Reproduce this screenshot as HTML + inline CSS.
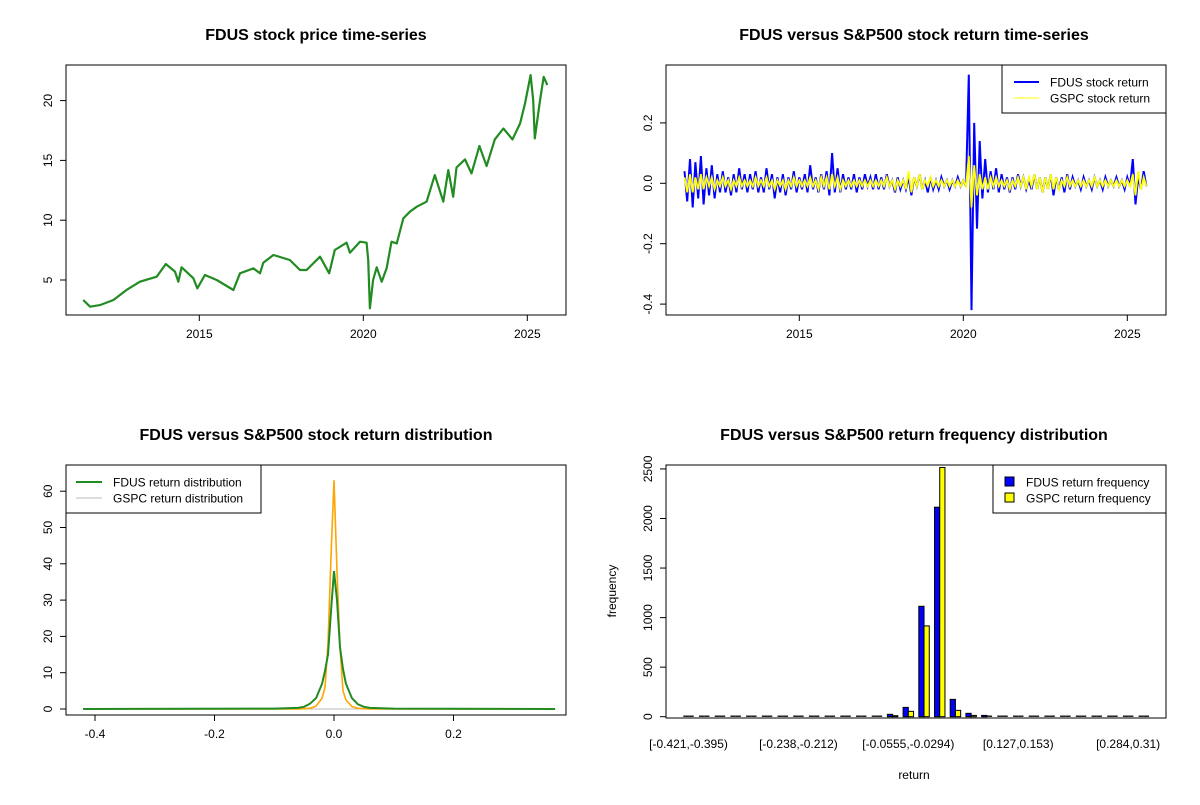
<!DOCTYPE html>
<html><head><meta charset="utf-8"><style>
body{margin:0;background:#fff}
svg{font-family:"Liberation Sans",Arial,sans-serif}
</style></head><body>
<svg id="s" width="1200" height="800" viewBox="0 0 1200 800"></svg>
<script>
// ---- Panel 1: price
const priceYears=[2011.46,2011.67,2011.97,2012.38,2012.78,2013.19,2013.70,2013.98,2014.26,2014.36,2014.46,2014.82,2014.94,2015.17,2015.53,2016.04,2016.24,2016.65,2016.85,2016.95,2017.26,2017.76,2018.07,2018.27,2018.68,2018.96,2019.13,2019.49,2019.59,2019.90,2020.10,2020.15,2020.20,2020.30,2020.41,2020.56,2020.71,2020.86,2021.02,2021.22,2021.42,2021.63,2021.93,2022.18,2022.44,2022.59,2022.74,2022.84,2023.10,2023.30,2023.54,2023.76,2024.01,2024.27,2024.55,2024.78,2024.93,2025.10,2025.18,2025.23,2025.38,2025.50,2025.61];
const priceValues=[3.33,2.77,2.9,3.33,4.16,4.86,5.28,6.34,5.7,4.86,6.06,5.14,4.3,5.42,5.0,4.16,5.56,5.97,5.56,6.45,7.09,6.67,5.84,5.84,6.95,5.56,7.51,8.12,7.28,8.2,8.12,6.67,2.63,5.0,6.06,4.86,5.97,8.2,8.06,10.15,10.71,11.13,11.55,13.77,11.55,14.19,11.96,14.41,15.08,13.91,16.2,14.53,16.76,17.67,16.76,18.09,19.76,22.13,20.04,16.84,19.9,21.99,21.3];
const yearTicks=[2015,2020,2025];
const priceTicks=[5,10,15,20];
// ---- Panel 2: returns (monthly samples from 2011.5)
const fdusReturn=[0.04,-0.06,0.08,-0.08,0.07,-0.05,0.09,-0.07,0.05,-0.04,0.06,-0.05,
0.03,-0.03,0.04,-0.03,0.02,-0.04,0.03,-0.03,0.05,-0.02,0.03,-0.03,
0.03,-0.02,0.04,-0.03,0.02,-0.03,0.05,-0.02,0.03,-0.05,0.02,-0.03,
0.03,-0.04,0.02,-0.02,0.04,-0.03,0.02,-0.02,0.03,-0.03,0.06,-0.02,
0.02,-0.03,0.03,-0.02,0.04,-0.04,0.1,-0.03,0.05,-0.03,0.03,-0.02,
0.02,-0.02,0.03,-0.03,0.02,-0.02,0.03,-0.01,0.02,-0.02,0.03,-0.02,
0.02,-0.02,0.03,-0.01,0.01,-0.03,0.02,-0.02,0.01,-0.02,0.02,-0.04,
0.02,-0.01,0.03,-0.02,0.01,-0.03,0.02,-0.02,0.01,-0.02,0.02,-0.01,
0.01,-0.02,0.01,-0.01,0.02,-0.01,0.01,-0.01,0.36,-0.42,0.2,-0.15,
0.14,-0.05,0.08,-0.03,0.04,-0.02,0.05,-0.03,0.03,-0.02,0.02,-0.03,
0.02,-0.02,0.03,-0.01,0.02,-0.02,0.01,-0.02,0.03,-0.02,0.02,-0.03,
0.02,-0.02,0.03,-0.04,0.02,-0.02,0.02,-0.03,0.03,-0.02,0.02,-0.01,
0.01,-0.02,0.02,-0.01,0.01,-0.02,0.02,-0.01,0.01,-0.02,0.02,-0.01,
0.01,-0.01,0.02,-0.01,0.01,-0.02,0.02,-0.01,0.08,-0.07,0.02,-0.02,0.04,-0.01];
const gspcReturn=[0.02,-0.03,0.03,-0.03,0.02,-0.02,0.03,-0.02,0.02,-0.01,0.02,-0.02,
0.01,-0.01,0.02,-0.01,0.01,-0.02,0.01,-0.01,0.02,-0.01,0.01,-0.01,
0.01,-0.01,0.02,-0.01,0.01,-0.01,0.02,-0.01,0.01,-0.02,0.01,-0.01,
0.01,-0.02,0.01,-0.01,0.02,-0.01,0.01,-0.01,0.01,-0.01,0.02,-0.01,
0.01,-0.02,0.02,-0.01,0.02,-0.02,0.03,-0.01,0.02,-0.02,0.01,-0.01,
0.01,-0.01,0.01,-0.01,0.01,-0.01,0.01,-0.01,0.01,-0.01,0.01,-0.01,
0.01,-0.01,0.02,-0.01,0.01,-0.02,0.01,-0.01,0.01,-0.02,0.04,-0.03,
0.02,-0.01,0.03,-0.02,0.01,-0.01,0.02,-0.01,0.01,-0.01,0.01,-0.01,
0.01,-0.01,0.01,-0.01,0.01,-0.01,0.01,-0.01,0.09,-0.08,0.06,-0.04,
0.03,-0.02,0.02,-0.02,0.02,-0.01,0.02,-0.01,0.01,-0.01,0.01,-0.02,
0.01,-0.01,0.02,-0.01,0.02,-0.02,0.02,-0.01,0.03,-0.02,0.02,-0.03,
0.02,-0.02,0.03,-0.02,0.02,-0.02,0.01,-0.01,0.02,-0.01,0.01,-0.01,
0.01,-0.01,0.01,-0.01,0.01,-0.01,0.02,-0.01,0.01,-0.01,0.01,-0.01,
0.01,-0.01,0.01,-0.01,0.01,-0.01,0.01,-0.01,0.03,-0.04,0.04,-0.02,0.02,-0.01];
const returnTicks=[-0.4,-0.2,0.0,0.2];
// ---- Panel 3: density
const fdusDensX=[-0.42,-0.1,-0.06,-0.05,-0.04,-0.03,-0.02,-0.015,-0.01,-0.005,0,0.005,0.01,0.015,0.02,0.03,0.04,0.05,0.06,0.1,0.37];
const fdusDensY=[0,0.1,0.3,0.6,1.5,3,7,10.5,15,27,38,30,17,11,7,3,1.3,0.6,0.3,0.1,0];
const gspcDensX=[-0.42,-0.06,-0.04,-0.03,-0.02,-0.015,-0.01,-0.005,0,0.005,0.01,0.015,0.02,0.03,0.04,0.06,0.37];
const gspcDensY=[0,0,0.2,0.8,3,6,18,42,63,38,17,5,2.5,0.7,0.2,0,0];
const densXTicks=[-0.4,-0.2,0.0,0.2];
const densYTicks=[0,10,20,30,40,50,60];
// ---- Panel 4: frequency
const binLabels=["[-0.421,-0.395)","","","","","","","[-0.238,-0.212)","","","","","","","[-0.0555,-0.0294)","","","","","","","[0.127,0.153)","","","","","","","[0.284,0.31)",""];
const fdusFreq=[1,0,0,0,0,0,0,0,0,0,2,6,8,24,94,1114,2114,175,34,13,3,1,0,0,0,0,0,0,0,1];
const gspcFreq=[0,0,0,0,0,0,0,0,0,0,0,2,3,10,54,916,2900,64,13,5,1,0,0,0,0,0,0,0,0,0];
const freqTicks=[0,500,1000,1500,2000,2500];

const S=document.getElementById('s');const NS="http://www.w3.org/2000/svg";
function mk(tag,at,txt,parent){const e=document.createElementNS(NS,tag);for(const k in at)e.setAttribute(k,at[k]);if(txt!==undefined)e.textContent=txt;(parent||S).appendChild(e);return e;}
function fmt1(v){return v.toFixed(1);}
function frame(x0,y0,x1,y1,name){let e=mk('rect',{x:x0,y:y0,width:x1-x0,height:y1-y0,fill:'none',stroke:'#000','stroke-width':1});

}
function title(x,y,t,name){let e=mk('text',{x:x,y:y,'text-anchor':'middle','font-size':16,'font-weight':'bold'},t);

}
function xtick(x,y,lab,name){let l=mk('line',{x1:x,x2:x,y1:y,y2:y+6,stroke:'#000'});


let t=mk('text',{x:x,y:y+23,'text-anchor':'middle','font-size':12},lab);

}
function ytick(x,y,lab,name){let l=mk('line',{x1:x,x2:x-6,y1:y,y2:y,stroke:'#000'});


let t=mk('text',{x:0,y:0,transform:`translate(${x-14},${y}) rotate(-90)`,'text-anchor':'middle','font-size':12},lab);

}
function path(pts,at,name){let d=pts.map((p,i)=>(i?'L':'M')+p[0].toFixed(1)+','+p[1].toFixed(1)).join('');at.d=d;at.fill='none';let e=mk('path',at);

}

// Panel 1
const yx=y=>199.3+(y-2015)*32.8;
const py=v=>280-(v-5)*11.96;
title(316,40,"FDUS stock price time-series","price-chart-title");
path(priceYears.map((t,i)=>[yx(t),py(priceValues[i])]),{stroke:'#228B22','stroke-width':2.2,'stroke-linejoin':'round'},"price-line");
frame(66,65,566,315,"price-plot-frame");
yearTicks.forEach(t=>xtick(yx(t),315,String(t),"price-x-axis"));
priceTicks.forEach(v=>ytick(66,py(v),String(v),"price-y-axis"));

// Panel 2
const yx2=y=>yx(y)+600;
const ry=v=>183.3-v*302;
title(914,40,"FDUS versus S&P500 stock return time-series","return-chart-title");
path(fdusReturn.map((v,i)=>[yx2(2011.5+i/12),ry(v)]),{stroke:'#0000FF','stroke-width':2},"fdus-return-line");
path(gspcReturn.map((v,i)=>[yx2(2011.5+i/12),ry(v)]),{stroke:'#FFFF00','stroke-width':1.8},"gspc-return-line");
frame(666,65,1166,315,"return-plot-frame");
yearTicks.forEach(t=>xtick(yx2(t),315,String(t),"return-x-axis"));
returnTicks.forEach(v=>ytick(666,ry(v),fmt1(v),"return-y-axis"));
let lg=mk('g',{});
mk('rect',{x:1002,y:65,width:164,height:48,fill:'#fff',stroke:'#000'},undefined,lg);
mk('line',{x1:1014,x2:1039,y1:82,y2:82,stroke:'#0000FF','stroke-width':2},undefined,lg);
mk('text',{x:1050,y:86.5,'font-size':12},"FDUS stock return",lg);
mk('line',{x1:1014,x2:1039,y1:98,y2:98,stroke:'#FFFF00','stroke-width':1},undefined,lg);
mk('text',{x:1050,y:102.5,'font-size':12},"GSPC stock return",lg);

// Panel 3
const dx=v=>334+v*597.5;
const dy=v=>709-v*3.63;
title(316,440,"FDUS versus S&P500 stock return distribution","density-chart-title");
path([[dx(-0.42),dy(0)],[dx(0.37),dy(0)]],{stroke:'#bbb','stroke-width':1},"density-baseline");
path(gspcDensX.map((v,i)=>[dx(v),dy(gspcDensY[i])]),{stroke:'#bbb','stroke-width':1},"gspc-density-line");
path(gspcDensX.map((v,i)=>[dx(v),dy(gspcDensY[i])]),{stroke:'#FFA500','stroke-width':1.6},"gspc-density-orange");
path(fdusDensX.map((v,i)=>[dx(v),dy(fdusDensY[i])]),{stroke:'#228B22','stroke-width':2},"fdus-density-line");
frame(66,465,566,715,"density-plot-frame");
densXTicks.forEach(v=>xtick(dx(v),715,fmt1(v),"density-x-axis"));
densYTicks.forEach(v=>ytick(66,dy(v),String(v),"density-y-axis"));
let lg2=mk('g',{});
mk('rect',{x:66,y:465,width:195,height:48,fill:'#fff',stroke:'#000'},undefined,lg2);
mk('line',{x1:76,x2:102,y1:482,y2:482,stroke:'#228B22','stroke-width':2},undefined,lg2);
mk('text',{x:113,y:486.5,'font-size':12},"FDUS return distribution",lg2);
mk('line',{x1:76,x2:102,y1:498,y2:498,stroke:'#bbb','stroke-width':1},undefined,lg2);
mk('text',{x:113,y:502.5,'font-size':12},"GSPC return distribution",lg2);

// Panel 4
const bw=5.23;
const gx=k=>683.3+k*15.7;
const fy=v=>716.7-Math.min(v,2515)*0.0991;
title(914,440,"FDUS versus S&P500 return frequency distribution","frequency-chart-title");
function bar(x,v,fill,name){
  if(716.7-fy(v)<0.8){let l=mk('line',{x1:x,x2:x+bw,y1:716.2,y2:716.2,stroke:'#000','stroke-width':1.3});
  
  return;}
  let r=mk('rect',{x:x,y:fy(v),width:bw,height:716.7-fy(v),fill:fill,stroke:'#000','stroke-width':1});
  
  }
fdusFreq.forEach((v,k)=>bar(gx(k),v,'#0000FF','fdus-bar-'+k));
gspcFreq.forEach((v,k)=>bar(gx(k)+bw,v,'#FFFF00','gspc-bar-'+k));
frame(666,465,1166,718,"frequency-plot-frame");
binLabels.forEach((l,k)=>{if(!l)return;let t=mk('text',{x:gx(k)+bw,y:748,'text-anchor':'middle','font-size':12},l);

});
freqTicks.forEach(v=>ytick(666,fy(v),String(v),"frequency-y-axis"));
let xt=mk('text',{x:914,y:779,'text-anchor':'middle','font-size':12},"return");


let yt=mk('text',{x:0,y:0,transform:'translate(616,591) rotate(-90)','text-anchor':'middle','font-size':12},"frequency");


let lg3=mk('g',{});
mk('rect',{x:993,y:465,width:173,height:48,fill:'#fff',stroke:'#000'},undefined,lg3);
mk('rect',{x:1005,y:477,width:9,height:9,fill:'#0000FF',stroke:'#000'},undefined,lg3);
mk('text',{x:1026,y:486.5,'font-size':12},"FDUS return frequency",lg3);
mk('rect',{x:1005,y:493,width:9,height:9,fill:'#FFFF00',stroke:'#000'},undefined,lg3);
mk('text',{x:1026,y:502.5,'font-size':12},"GSPC return frequency",lg3);
</script>
</body></html>
